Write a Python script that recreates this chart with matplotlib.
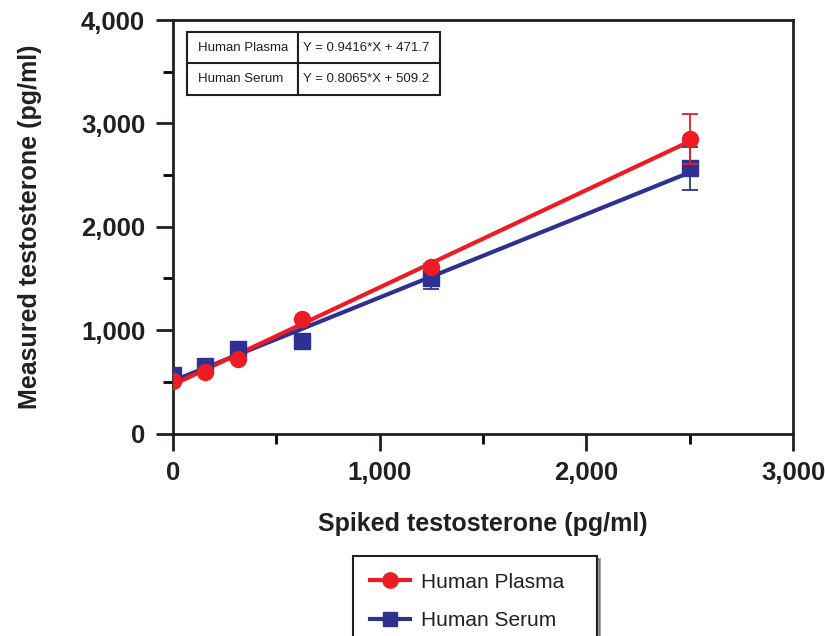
import matplotlib
matplotlib.use('Agg')
import matplotlib.pyplot as plt
from matplotlib.lines import Line2D
from matplotlib.ticker import FuncFormatter, MultipleLocator
import numpy as np

# ── Data ──────────────────────────────────────────────────────────────────────
spiked = [0, 156.25, 312.5, 625, 1250, 2500]

plasma_mean = [505, 598, 718, 1108, 1612, 2848]
plasma_err  = [0, 0, 0, 0, 30, 245]

serum_mean = [566, 653, 815, 895, 1500, 2565]
serum_err  = [0, 0, 0, 0, 100, 205]

fits = {
    'Human Plasma': (0.9416, 471.7),
    'Human Serum':  (0.8065, 509.2),
}

RED  = '#ED1C24'
BLUE = '#2E3192'
INK  = '#231F20'

plt.rcParams['font.family'] = ['Liberation Sans', 'DejaVu Sans']

# ── Plot ──────────────────────────────────────────────────────────────────────
fig = plt.figure(figsize=(8.25, 6.36), dpi=100)
ax = fig.add_axes([173 / 825, 1 - 433.5 / 636, 620 / 825, 413.5 / 636])

xfit = np.array([0, 2500])
for name, color in [('Human Serum', BLUE), ('Human Plasma', RED)]:
    m, b = fits[name]
    ax.plot(xfit, m * xfit + b, color=color, lw=3, zorder=2, solid_capstyle='butt')

ax.errorbar(spiked, serum_mean, yerr=serum_err, fmt='s', color=BLUE,
            ms=11, elinewidth=1.3, capsize=5.5, capthick=1.3, zorder=3)
ax.errorbar(spiked, plasma_mean, yerr=plasma_err, fmt='o', color=RED,
            ms=11.5, elinewidth=1.3, capsize=5.5, capthick=1.3, zorder=4)

ax.set_xlim(0, 3000)
ax.set_ylim(0, 4000)
ax.xaxis.set_major_locator(MultipleLocator(1000))
ax.xaxis.set_minor_locator(MultipleLocator(500))
ax.yaxis.set_major_locator(MultipleLocator(1000))
ax.yaxis.set_minor_locator(MultipleLocator(500))
fmt = FuncFormatter(lambda v, p: f'{int(v):,}')
ax.xaxis.set_major_formatter(fmt)
ax.yaxis.set_major_formatter(fmt)

ax.tick_params(which='major', direction='out', length=12, width=2, pad=8,
               labelsize=18.5, colors=INK)
ax.tick_params(which='minor', direction='out', length=7, width=2)
for lab in ax.get_xticklabels() + ax.get_yticklabels():
    lab.set_fontweight('bold')
for spine in ax.spines.values():
    spine.set_linewidth(2)
    spine.set_color(INK)

ax.set_xlabel('Spiked testosterone (pg/ml)', fontsize=18, fontweight='bold',
              labelpad=19, color=INK)
ax.set_ylabel('Measured testosterone (pg/ml)', fontsize=18, fontweight='bold',
              labelpad=28, color=INK)

# ── Equation table ────────────────────────────────────────────────────────────
rows = [[name, f'Y = {m}*X + {b}'] for name, (m, b) in fits.items()]
tbl = ax.table(cellText=rows, cellLoc='left', colWidths=[0.44, 0.56],
               bbox=[14 / 620, (433.5 - 95) / 413.5, 253 / 620, 63 / 413.5])
tbl.auto_set_font_size(False)
tbl.set_fontsize(9.5)
for (r, c), cell in tbl.get_celld().items():
    cell.set_linewidth(1.5)
    cell.set_edgecolor(INK)
    cell.get_text().set_color(INK)
    if c == 1:
        cell.PAD = 0.035

# ── Legend (box hangs off the bottom edge) ────────────────────────────────────
handles = [
    Line2D([], [], color=RED, lw=3, marker='o', ms=11),
    Line2D([], [], color=BLUE, lw=3, marker='s', ms=10),
]
top = 1 - 556 / 636
leg = fig.legend(handles, ['Human Plasma', 'Human Serum'],
                 loc='upper left', bbox_to_anchor=(353 / 825, top - 0.2, 244 / 825, 0.2),
                 bbox_transform=fig.transFigure, mode='expand', borderaxespad=0,
                 fontsize=15, handlelength=1.95, handletextpad=0.5,
                 labelspacing=0.95, borderpad=0.8, fancybox=False,
                 shadow=True, edgecolor=INK, framealpha=1)
leg.get_frame().set_linewidth(1.5)
for t in leg.get_texts():
    t.set_color(INK)

fig.savefig('out.png', dpi=100)
